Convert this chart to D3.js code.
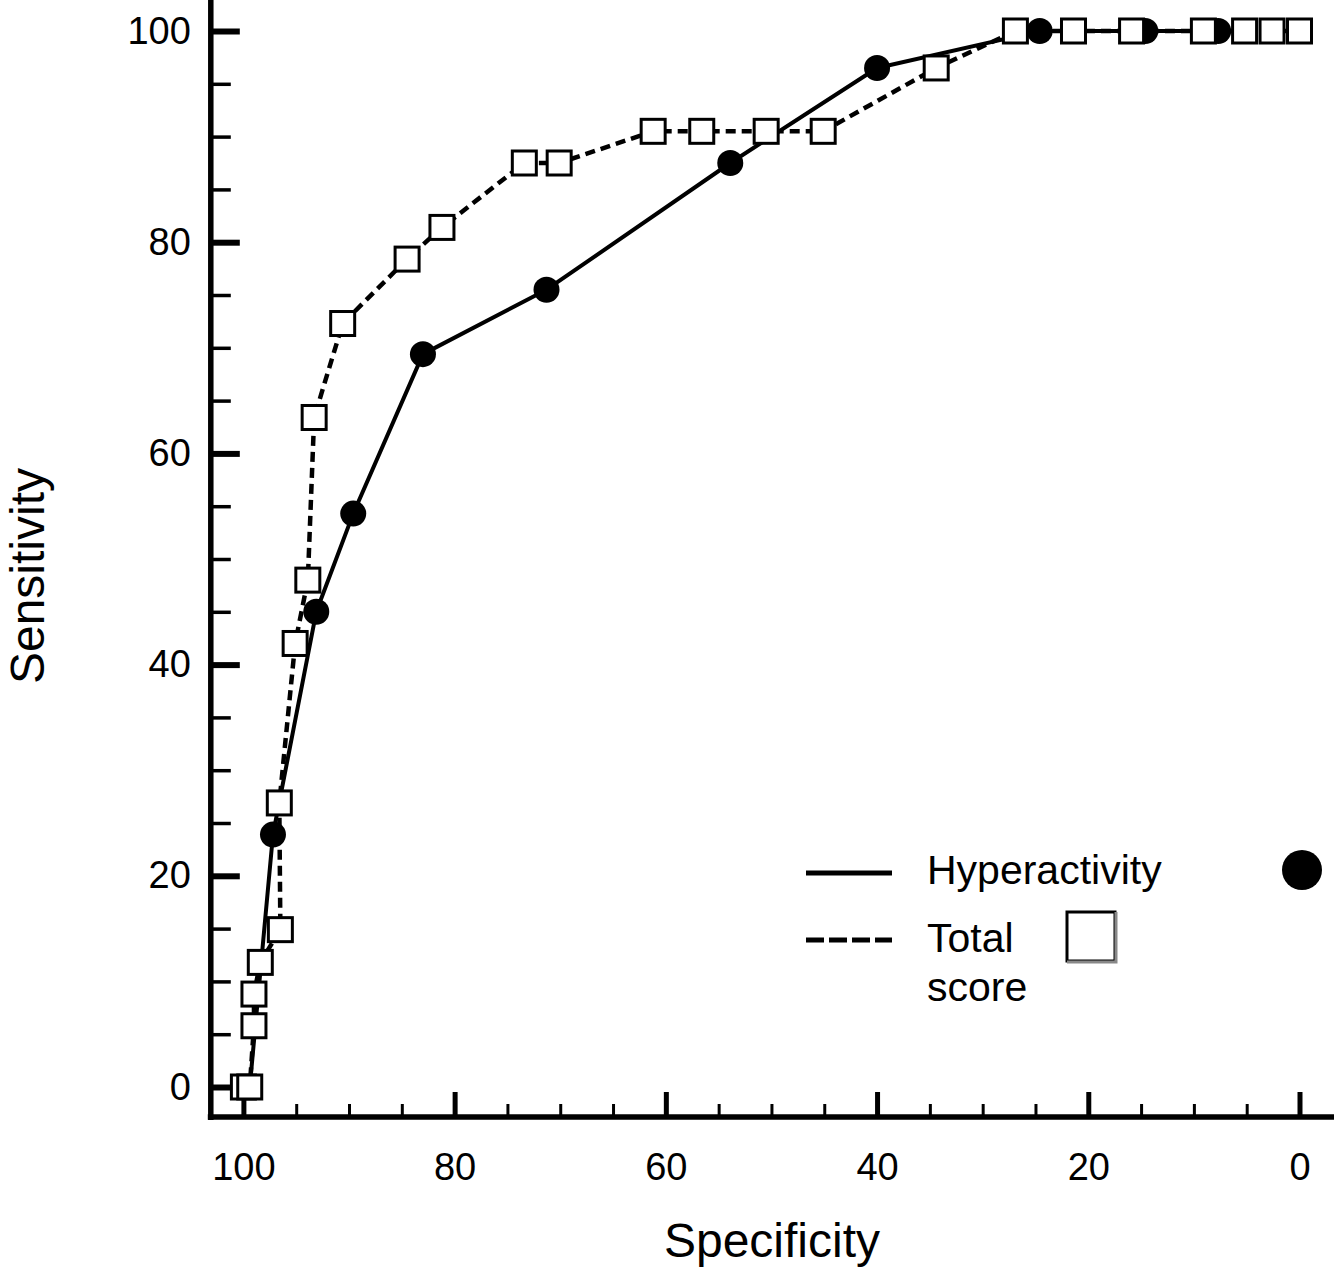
<!DOCTYPE html>
<html>
<head>
    <title>ROC curves</title>
    <style>
        body { margin: 0; background: #fff; }
        text { font-family: "Liberation Sans", Arial, sans-serif; fill: #000; }
    </style>
</head>
<body>
<svg id="roc" width="1334" height="1275"></svg>

<script src="https://d3js.org/d3.v7.min.js"></script>
<script type="text/javascript">

// values (specificity %, sensitivity %)
const hyperSpec = [99.4, 97.2, 93.1, 89.6, 83.0, 71.3, 53.9, 40.0, 24.6, 14.6, 7.7];
const hyperSens = [0, 23.9, 45.0, 54.3, 69.4, 75.5, 87.5, 96.5, 100, 100, 100];

const totalSpec = [100, 99.4, 99.0, 99.0, 98.4, 96.5, 96.6, 95.1, 93.9, 93.3, 90.6, 84.5, 81.2,
    73.4, 70.1, 61.2, 56.6, 50.5, 45.1, 34.4, 26.9, 21.4, 15.9, 9.1, 5.2, 2.6, 0];
const totalSens = [0, 0, 5.8, 8.8, 11.8, 14.9, 26.9, 42.0, 48.0, 63.4, 72.3, 78.4, 81.4,
    87.5, 87.5, 90.5, 90.5, 90.5, 90.5, 96.5, 100, 100, 100, 100, 100, 100, 100];

const majorTicks = [100, 80, 60, 40, 20, 0];
const minorTicks = d3.range(0, 101, 5).filter(v => v % 20 !== 0);

const seriesNames = ['Hyperactivity', 'Total', 'score'];
const axisTitles = { x: 'Specificity', y: 'Sensitivity' };

function renderChart() {
    const svg = d3.select('#roc');
    const W = 1334, H = 1275;

    // axis origin (where the two axis lines meet)
    const axisX = 210.8, axisY = 1117;

    const x = d3.scaleLinear()
        .domain([100, 0])
        .range([243.4, 1299.5]);

    const y = d3.scaleLinear()
        .domain([0, 100])
        .range([1087, 31]);

    const hyper = hyperSpec.map((s, i) => ({ spec: s, sens: hyperSens[i] }));
    const total = totalSpec.map((s, i) => ({ spec: s, sens: totalSens[i] }));

    // x axis
    const xAxis = svg.append('g')
        .attr('class', 'x-axis')
        .attr('transform', `translate(0, ${axisY})`);

    xAxis.append('g')
        .call(d3.axisBottom(x).tickValues(minorTicks).tickSize(-13).tickFormat(''))
        .call(g => g.select('.domain').remove())
        .call(g => g.selectAll('line').attr('stroke', '#000').attr('stroke-width', 3));

    xAxis.append('g')
        .call(d3.axisBottom(x).tickValues(majorTicks).tickSize(-25).tickPadding(36))
        .call(g => g.select('.domain').remove())
        .call(g => g.selectAll('line').attr('stroke', '#000').attr('stroke-width', 5))
        .call(g => g.selectAll('text')
            .style('font-size', '38px')
            .attr('fill', '#000'));

    // y axis
    const yAxis = svg.append('g')
        .attr('class', 'y-axis')
        .attr('transform', `translate(${axisX}, 0)`);

    yAxis.append('g')
        .call(d3.axisLeft(y).tickValues(minorTicks).tickSize(-20).tickFormat(''))
        .call(g => g.select('.domain').remove())
        .call(g => g.selectAll('line').attr('stroke', '#000').attr('stroke-width', 3.5));

    yAxis.append('g')
        .call(d3.axisLeft(y).tickValues(majorTicks).tickSize(-29).tickPadding(20))
        .call(g => g.select('.domain').remove())
        .call(g => g.selectAll('line').attr('stroke', '#000').attr('stroke-width', 6))
        .call(g => g.selectAll('text')
            .style('font-size', '38px')
            .attr('fill', '#000'));

    // axis lines
    svg.append('line')
        .attr('x1', axisX - 3).attr('x2', W)
        .attr('y1', axisY).attr('y2', axisY)
        .attr('stroke', '#000').attr('stroke-width', 5.5);
    svg.append('line')
        .attr('x1', axisX).attr('x2', axisX)
        .attr('y1', 0).attr('y2', axisY + 3)
        .attr('stroke', '#000').attr('stroke-width', 5.5);

    // axis titles
    svg.append('text')
        .attr('x', 772).attr('y', 1257)
        .attr('text-anchor', 'middle')
        .style('font-size', '48px')
        .text(axisTitles.x);
    svg.append('text')
        .attr('transform', 'translate(44, 576) rotate(-90)')
        .attr('text-anchor', 'middle')
        .style('font-size', '48px')
        .text(axisTitles.y);

    // curves
    const line = d3.line()
        .x(d => x(d.spec))
        .y(d => y(d.sens));

    const curves = svg.append('g').attr('class', 'curves');

    curves.append('path')
        .datum(hyper)
        .attr('d', line)
        .attr('fill', 'none')
        .attr('stroke', '#000')
        .attr('stroke-width', 4)
        .attr('stroke-linejoin', 'round');

    curves.append('path')
        .datum(total)
        .attr('d', line)
        .attr('fill', 'none')
        .attr('stroke', '#000')
        .attr('stroke-width', 4.5)
        .attr('stroke-dasharray', '10,6');

    curves.selectAll('.hyper-dot')
        .data(hyper)
        .join('circle')
            .attr('class', 'hyper-dot')
            .attr('cx', d => x(d.spec))
            .attr('cy', d => y(d.sens))
            .attr('r', 13)
            .attr('fill', '#000');

    const sq = 24;
    curves.selectAll('.total-box')
        .data(total)
        .join('rect')
            .attr('class', 'total-box')
            .attr('x', d => x(d.spec) - sq / 2)
            .attr('y', d => y(d.sens) - sq / 2)
            .attr('width', sq)
            .attr('height', sq)
            .attr('fill', '#fff')
            .attr('stroke', '#000')
            .attr('stroke-width', 3);

    // legend
    const legend = svg.append('g').attr('class', 'legend');

    legend.append('line')
        .attr('x1', 806).attr('x2', 892)
        .attr('y1', 873).attr('y2', 873)
        .attr('stroke', '#000').attr('stroke-width', 5);
    legend.append('line')
        .attr('x1', 806).attr('x2', 892)
        .attr('y1', 940).attr('y2', 940)
        .attr('stroke', '#000').attr('stroke-width', 5)
        .attr('stroke-dasharray', '18,5');

    legend.append('text')
        .attr('x', 927).attr('y', 884)
        .style('font-size', '41px')
        .text(seriesNames[0]);
    legend.append('text')
        .attr('x', 927).attr('y', 952)
        .style('font-size', '41px')
        .text(seriesNames[1]);
    legend.append('text')
        .attr('x', 927).attr('y', 1001)
        .style('font-size', '41px')
        .text(seriesNames[2]);

    legend.append('circle')
        .attr('cx', 1302).attr('cy', 870)
        .attr('r', 20)
        .attr('fill', '#000');

    legend.append('rect')
        .attr('x', 1067).attr('y', 912)
        .attr('width', 48).attr('height', 49)
        .attr('fill', '#fff')
        .attr('stroke', '#000')
        .attr('stroke-width', 3);
    // soft grey edge on the right and bottom of the legend box
    legend.append('path')
        .attr('d', 'M1116,912 V962 H1067')
        .attr('fill', 'none')
        .attr('stroke', '#888')
        .attr('stroke-width', 3);
}

renderChart();

</script>
</body>
</html>
